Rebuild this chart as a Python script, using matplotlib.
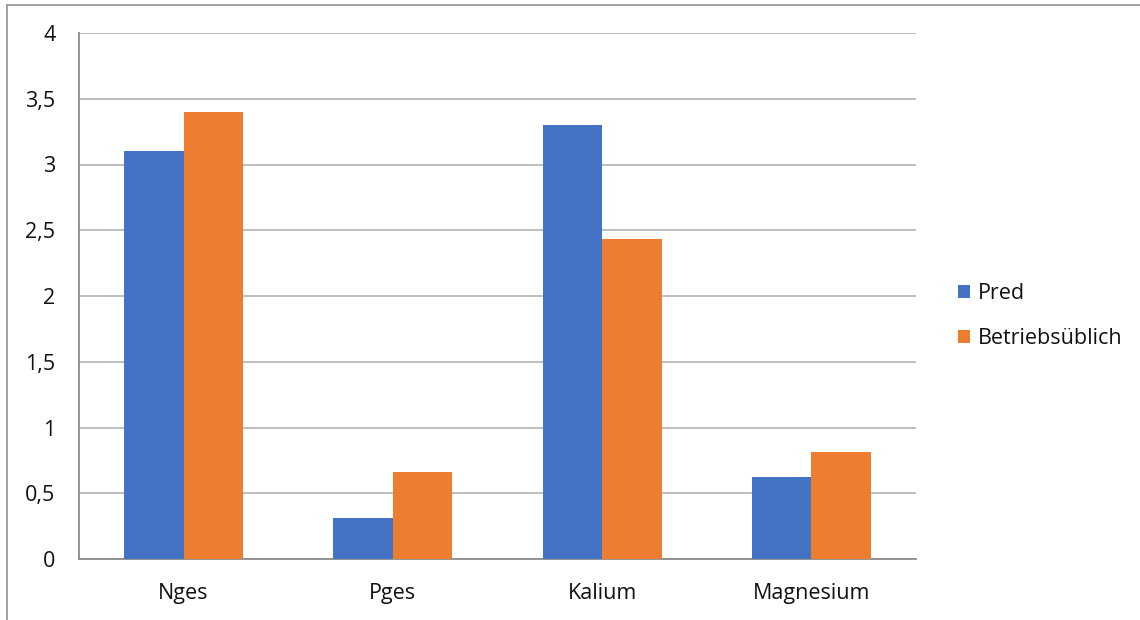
import matplotlib
matplotlib.use("Agg")
import matplotlib.pyplot as plt
from matplotlib.lines import Line2D
from matplotlib.patches import Patch
import numpy as np

categories = ["Nges", "Pges", "Kalium", "Magnesium"]
pred = [3.10, 0.31, 3.30, 0.62]
betriebsueblich = [3.40, 0.66, 2.43, 0.81]
series_names = ["Pred", "Betriebsüblich"]
y_ticks = [0, 0.5, 1, 1.5, 2, 2.5, 3, 3.5, 4]
y_tick_labels = ["0", "0,5", "1", "1,5", "2", "2,5", "3", "3,5", "4"]

BLUE = "#4472C4"
ORANGE = "#ED7D31"
GRID = "#b3b3b3"
AXIS = "#8c8c8c"
TEXT = "#111111"
FS = 15.5

plt.rcParams["font.family"] = ["Open Sans", "DejaVu Sans"]

fig = plt.figure(figsize=(11.4, 6.2), dpi=100)
ax = fig.add_axes([79 / 1140, 1 - 559 / 620, (916 - 79) / 1140, (559 - 33) / 620])

x = np.arange(len(categories))
w = 0.284
ax.bar(x - w / 2, pred, width=w, color=BLUE, zorder=3)
ax.bar(x + w / 2, betriebsueblich, width=w, color=ORANGE, zorder=3)

ax.set_xlim(-0.5, len(categories) - 0.5)
ax.set_ylim(0, 4)
ax.set_yticks(y_ticks)
ax.set_yticklabels(y_tick_labels)
ax.set_xticks(x)
ax.set_xticklabels(categories)
ax.tick_params(axis="both", length=0, labelsize=FS, colors=TEXT)
ax.tick_params(axis="y", pad=17)
ax.tick_params(axis="x", pad=17.5)

ax.yaxis.grid(True, color=GRID, linewidth=1.2, zorder=0)
ax.set_axisbelow(True)
for side in ["top", "right"]:
    ax.spines[side].set_visible(False)
ax.spines["left"].set_color(AXIS)
ax.spines["bottom"].set_color(AXIS)
ax.spines["left"].set_linewidth(1.3)
ax.spines["bottom"].set_linewidth(1.3)

handles = [Patch(facecolor=BLUE), Patch(facecolor=ORANGE)]
fig.legend(handles, series_names, loc="center left",
           bbox_to_anchor=(939 / 1140, 1 - 316 / 620), frameon=False,
           fontsize=FS, handlelength=0.56, handleheight=0.56,
           handletextpad=0.33, labelspacing=1.1, labelcolor=TEXT)

# outer chart-area border (top and left edges)
fig.add_artist(Line2D([7 / 1140, 1], [1 - 5 / 620, 1 - 5 / 620],
                      transform=fig.transFigure, color="#9a9a9a", linewidth=1.3))
fig.add_artist(Line2D([7 / 1140, 7 / 1140], [0, 1 - 5 / 620],
                      transform=fig.transFigure, color="#9a9a9a", linewidth=1.3))

fig.savefig("out.png", dpi=100)
